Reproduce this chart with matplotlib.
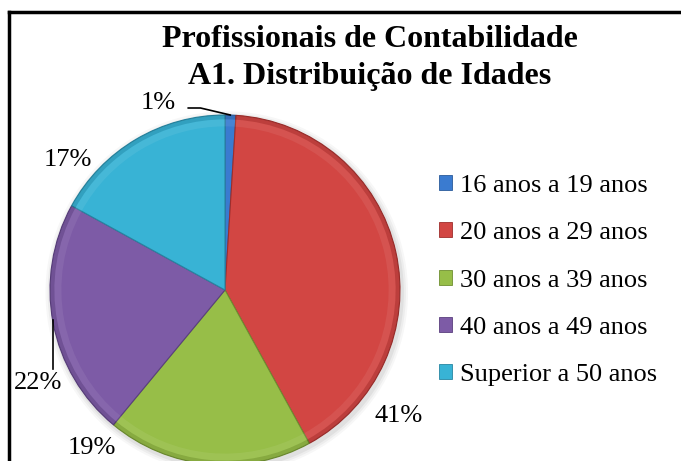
import matplotlib
matplotlib.use('Agg')
import matplotlib.pyplot as plt
from matplotlib.patches import Patch
from matplotlib.lines import Line2D

plt.rcParams['font.family'] = ['Liberation Serif', 'DejaVu Serif']

categories = ['16 anos a 19 anos', '20 anos a 29 anos', '30 anos a 39 anos',
              '40 anos a 49 anos', 'Superior a 50 anos']
shares = [1, 41, 19, 22, 17]
colors = ['#3A7BD0', '#D24643', '#97BE48', '#7D5BA6', '#38B3D5']
edge_colors = ['#2A5A9A', '#9E2E2C', '#6E8E30', '#5A3F7E', '#2786A2']

# where each percent label sits (pie radius = 1)
label_pos = [(-0.38, 1.07), (0.99, -0.72), (-0.76, -0.90), (-1.07, -0.53), (-0.90, 0.74)]

W, H = 681, 461
fig = plt.figure(figsize=(W / 100, H / 100), dpi=100)

# pie centre at (225, 290) px, radius 175 px
cx, cy, r = 225, 290, 175
ax = fig.add_axes([(cx - r) / W, (H - cy - r) / H, 2 * r / W, 2 * r / H])
ax.axis('off')

# soft shadow
for k, a in enumerate([0.05, 0.04, 0.03]):
    ax.pie([1], radius=1.0 + 0.012 * (k + 1), colors=['#000000'],
           wedgeprops=dict(alpha=a, linewidth=0), center=(0.01, -0.015))

wedges, _ = ax.pie(shares, colors=colors, startangle=90, counterclock=False,
                   wedgeprops=dict(linewidth=0.8))
for w, ec in zip(wedges, edge_colors):
    w.set_edgecolor(ec)

# darker rim and light bevel just inside it
ax.pie(shares, colors=['none'] * 5, startangle=90, counterclock=False, radius=1.0,
       wedgeprops=dict(width=0.025, linewidth=0, facecolor='black', alpha=0.10))
ax.pie(shares, colors=['none'] * 5, startangle=90, counterclock=False, radius=0.975,
       wedgeprops=dict(width=0.04, linewidth=0, facecolor='white', alpha=0.07))

ax.set_xlim(-1, 1)
ax.set_ylim(-1, 1)
ax.set_aspect('equal')

for (x, y), v in zip(label_pos, shares):
    ax.text(x, y, f'{v}%', ha='center', va='center', fontsize=19, clip_on=False)

# leader lines
ax.add_line(Line2D([-0.21, -0.14, 0.03], [1.04, 1.04, 1.0], color='black', lw=1.2, clip_on=False))
ax.add_line(Line2D([-0.983, -0.983], [-0.17, -0.45], color='black', lw=1.2, clip_on=False))

fig.text(370 / W, 1 - 58 / H, 'Profissionais de Contabilidade\nA1. Distribuição de Idades',
         ha='center', va='center', fontsize=23, fontweight='bold', linespacing=1.32)

handles = [Patch(facecolor=c, edgecolor=e, linewidth=0.6) for c, e in zip(colors, edge_colors)]
fig.legend(handles, categories, loc='upper left', bbox_to_anchor=(439 / W, 1 - 175 / H),
           frameon=False, fontsize=19, handlelength=0.5, handleheight=0.5,
           handletextpad=0.3, labelspacing=0.96, borderpad=0, borderaxespad=0)

# chart frame (left and top edges visible)
fig.add_artist(Line2D([9 / W, 9 / W], [0, 1 - 12 / H], color='black', lw=2.5))
fig.add_artist(Line2D([9 / W, 1], [1 - 12 / H, 1 - 12 / H], color='black', lw=2.5))

fig.savefig('out.png', dpi=100)
